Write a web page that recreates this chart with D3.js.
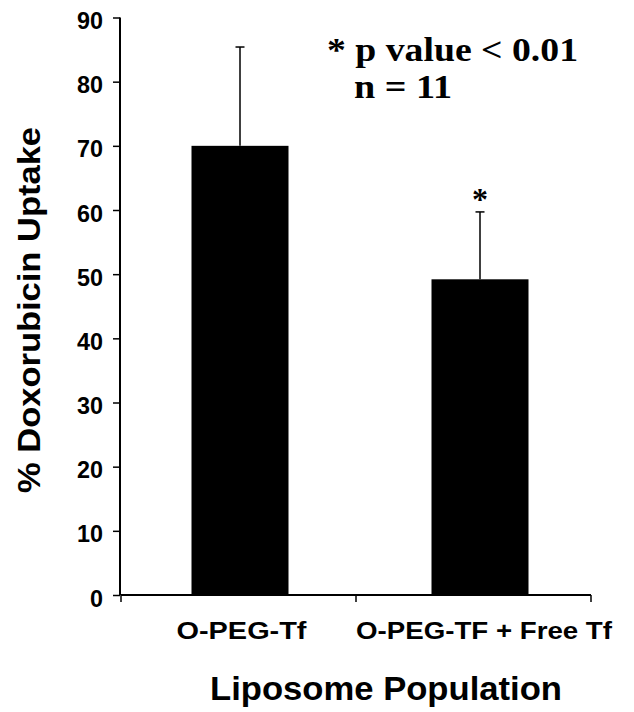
<!DOCTYPE html>
<html><head><meta charset="utf-8">
<script src="https://cdn.jsdelivr.net/npm/d3@7"></script>
<style>body{margin:0;background:#fff}</style>
</head><body>
<svg id="c" width="634" height="712"></svg>
<script>
const categories = ["O-PEG-Tf", "O-PEG-TF + Free Tf"];
const values = [70, 49.2];
const errors = [15.4, 10.5];
const yTicks = [0,10,20,30,40,50,60,70,80,90];
const sig = ["", "*"];

const svg = d3.select("#c");
const x = d3.scaleBand().domain(categories).range([121, 591]).paddingInner(0).paddingOuter(0);
const y = d3.scaleLinear().domain([0, 90]).range([595, 17.5]);

const bw = 97;
const cx = (d,i) => x(d) + x.bandwidth()/2 + (i===0 ? 1.5 : 6.5);
const sans = "Liberation Sans, Arial, sans-serif";
const serif = "Liberation Serif, Times New Roman, serif";

// y axis
const ya = svg.append("g").attr("transform","translate(120,0)")
  .call(d3.axisLeft(y).tickValues(yTicks).tickSize(7).tickPadding(10).tickFormat(d3.format("d")));
ya.select(".domain").attr("stroke","#000").attr("stroke-width",2).attr("d","M0,"+y(90)+"V"+y(0));
ya.selectAll(".tick line").attr("stroke-width",1.5);
ya.selectAll("text").attr("font-family",sans).attr("font-weight","bold").attr("font-size",23).attr("fill","#000")
  .attr("dy","0.48em").attr("textLength",d=>d===0?13:26).attr("lengthAdjust","spacingAndGlyphs");

// x axis
const xa = svg.append("g").attr("transform","translate(0,595)")
  .call(d3.axisBottom(x).tickSize(0).tickPadding(44));
xa.select(".domain").attr("stroke","#000").attr("stroke-width",2).attr("d","M121,0H591");
xa.selectAll("text").attr("font-family",sans).attr("font-weight","bold").attr("font-size",24).attr("fill","#000")
  .attr("dy","0").attr("dx",(d,i)=> i===0?3:10.5)
  .attr("textLength",(d,i)=> i===0?130:256).attr("lengthAdjust","spacingAndGlyphs");
// boundary ticks
svg.append("g").selectAll("line").data([121, x(categories[1]), 591]).join("line")
  .attr("x1",d=>d).attr("x2",d=>d).attr("y1",595).attr("y2",602).attr("stroke","#000").attr("stroke-width",1.5);

// bars
svg.append("g").selectAll("rect").data(categories).join("rect")
  .attr("x",(d,i)=>cx(d,i)-bw/2).attr("width",bw)
  .attr("y",(d,i)=>y(values[i])).attr("height",(d,i)=>y(0)-y(values[i]))
  .attr("fill","#000");

// error bars
const eg = svg.append("g").attr("stroke","#000").attr("stroke-width",1.5);
categories.forEach((d,i)=>{
  const c = cx(d,i);
  eg.append("line").attr("x1",c).attr("x2",c).attr("y1",y(values[i])).attr("y2",y(values[i]+errors[i]));
  eg.append("line").attr("x1",c-4.5).attr("x2",c+4.5).attr("y1",y(values[i]+errors[i])).attr("y2",y(values[i]+errors[i]));
});

// significance stars
svg.append("g").selectAll("text").data(categories).join("text")
  .attr("x",(d,i)=>cx(d,i)).attr("y",(d,i)=>y(values[i]+errors[i])-2)
  .attr("text-anchor","middle").attr("font-family",serif).attr("font-weight","bold").attr("font-size",32)
  .text((d,i)=>sig[i]);

// annotation
const ann = svg.append("g").attr("font-family",serif).attr("font-weight","bold").attr("font-size",33).attr("fill","#000");
ann.append("text").attr("x",327).attr("y",61).attr("textLength",251).attr("lengthAdjust","spacingAndGlyphs").text("* p value < 0.01");
ann.append("text").attr("x",354).attr("y",98).attr("textLength",98).attr("lengthAdjust","spacingAndGlyphs").text("n = 11");

// axis titles
svg.append("text").attr("transform","translate(40,310) rotate(-90)").attr("text-anchor","middle")
  .attr("font-family",sans).attr("font-weight","bold").attr("font-size",32).attr("fill","#000")
  .attr("textLength",366).attr("lengthAdjust","spacingAndGlyphs")
  .text("% Doxorubicin Uptake");
svg.append("text").attr("x",386).attr("y",700).attr("text-anchor","middle")
  .attr("font-family",sans).attr("font-weight","bold").attr("font-size",34).attr("fill","#000")
  .attr("textLength",352).attr("lengthAdjust","spacingAndGlyphs")
  .text("Liposome Population");
</script>
</body></html>
